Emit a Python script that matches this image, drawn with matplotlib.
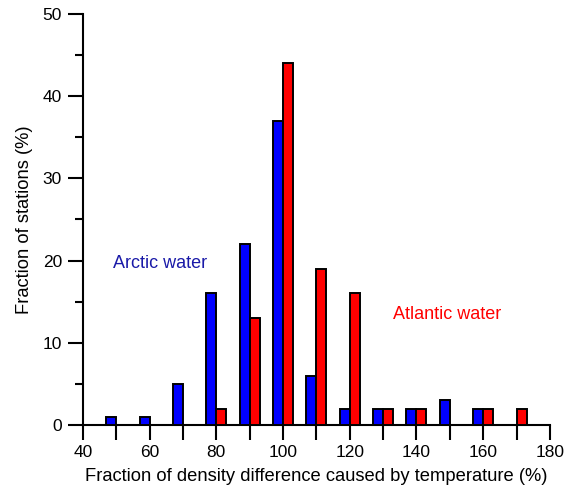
import matplotlib
matplotlib.use("Agg")
import matplotlib.pyplot as plt
import numpy as np

plt.rcParams['font.family'] = ['Liberation Sans', 'DejaVu Sans']

bins = [50, 60, 70, 80, 90, 100, 110, 120, 130, 140, 150, 160, 170]
arctic = [1, 1, 5, 16, 22, 37, 6, 2, 2, 2, 3, 2, 0]
atlantic = [0, 0, 0, 2, 13, 44, 19, 16, 2, 2, 0, 2, 2]

fig = plt.figure(figsize=(5.64, 4.92), dpi=100)
ax = fig.add_axes([0.147, 0.136, 0.828, 0.836])

w = 3
b = np.array(bins, dtype=float)
a = np.array(arctic, dtype=float)
t = np.array(atlantic, dtype=float)
ma = a > 0
mt = t > 0
ax.bar(b[ma], a[ma], width=-w, align='edge', color='#0000ff', edgecolor='black', linewidth=1.4, zorder=3)
ax.bar(b[mt], t[mt], width=w, align='edge', color='#ff0000', edgecolor='black', linewidth=1.4, zorder=3)

ax.set_xlim(40, 180)
ax.set_ylim(0, 50)
ax.set_xticks(range(40, 181, 20))
ax.set_xticks(range(40, 181, 10), minor=True)
ax.set_yticks(range(0, 51, 10))
ax.set_yticks(range(0, 51, 5), minor=True)
for s in ['top', 'right']:
    ax.spines[s].set_visible(False)
for s in ['left', 'bottom']:
    ax.spines[s].set_linewidth(1.5)
ax.tick_params(which='both', direction='out', width=1.5, labelsize=12.5)
ax.tick_params(axis='x', which='both', length=11, pad=3)
ax.tick_params(axis='y', which='major', length=11, pad=4)
ax.tick_params(axis='y', which='minor', length=5.5)
ax.set_xlabel('Fraction of density difference caused by temperature (%)', fontsize=13.2, labelpad=6)
ax.set_ylabel('Fraction of stations (%)', fontsize=13.2, labelpad=7)

ax.text(49, 19.7, 'Arctic water', color='#1a1aa8', fontsize=13, va='center', ha='left')
ax.text(133, 13.5, 'Atlantic water', color='#ff0000', fontsize=13, va='center', ha='left')

fig.savefig('out.png', dpi=100)
